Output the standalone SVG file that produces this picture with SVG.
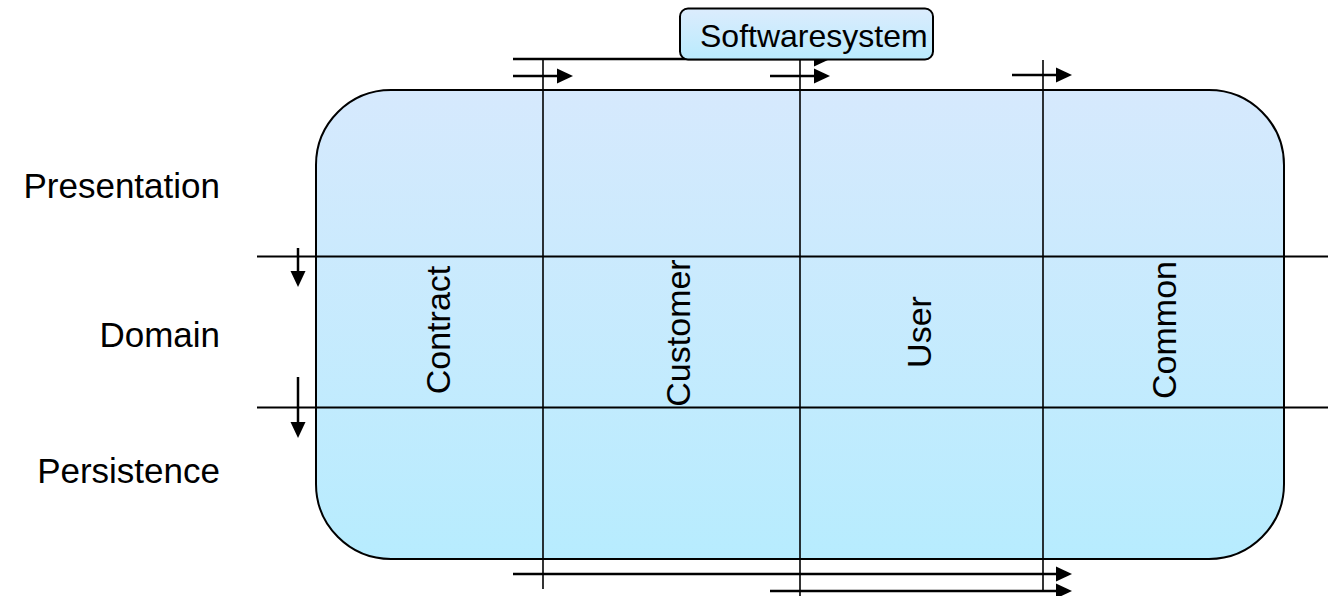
<svg xmlns="http://www.w3.org/2000/svg" width="1328" height="596" viewBox="0 0 1328 596">
  <style>
    .lbl { font-family: "Liberation Sans", Arial, sans-serif; font-size: 34px; fill: #000; }
    .row { font-size: 35px; }
    .title { font-size: 32px; }
    .grid { stroke: #000; stroke-width: 2; fill: none; }
    .col { stroke: #000; stroke-width: 1.6; fill: none; }
    .flow { stroke: #000; stroke-width: 2.5; fill: none; marker-end: url(#head); }
  </style>
  <defs>
    <linearGradient id="bodyFill" x1="0" y1="0" x2="0" y2="1">
      <stop offset="0" stop-color="#d6e9fd"/>
      <stop offset="1" stop-color="#b7ecfe"/>
    </linearGradient>
    <linearGradient id="boxFill" x1="0" y1="0" x2="0" y2="1">
      <stop offset="0" stop-color="#dcecfd"/>
      <stop offset="1" stop-color="#b9ebfd"/>
    </linearGradient>
    <marker id="head" viewBox="0 0 16 16" refX="8" refY="8" markerWidth="16" markerHeight="16" markerUnits="userSpaceOnUse" orient="auto">
      <path d="M0,0.5 L16,8 L0,15.5 z" fill="#000"/>
    </marker>
  </defs>

  <!-- system body -->
  <g id="system-body">
    <rect x="316" y="90" width="968" height="469" rx="75" ry="75" fill="url(#bodyFill)" stroke="#000" stroke-width="2"/>
  </g>

  <!-- layer and module separators, flows -->
  <g id="connectors">
    <line class="grid" x1="257" y1="256.5" x2="1328" y2="256.5"/>
    <line class="grid" x1="257" y1="407.5" x2="1328" y2="407.5"/>
    <line class="col" x1="543" y1="59" x2="543" y2="589"/>
    <line class="col" x1="800" y1="59" x2="800" y2="596"/>
    <line class="col" x1="1043" y1="60" x2="1043" y2="592"/>

    <line class="flow" x1="513" y1="59" x2="822" y2="59"/>
    <line class="flow" x1="513" y1="76" x2="565" y2="76"/>
    <line class="flow" x1="770" y1="76" x2="822" y2="76"/>
    <line class="flow" x1="1012" y1="75" x2="1064" y2="75"/>

    <line class="flow" x1="298" y1="248" x2="298" y2="279"/>
    <line class="flow" x1="298" y1="377" x2="298" y2="430"/>

    <line class="flow" x1="513" y1="574" x2="1064" y2="574"/>
    <line class="flow" x1="770" y1="591" x2="1064" y2="591"/>
  </g>

  <!-- layer labels -->
  <g id="layer-presentation"><text class="lbl row" x="220" y="198" text-anchor="end">Presentation</text></g>
  <g id="layer-domain"><text class="lbl row" x="220" y="347" text-anchor="end">Domain</text></g>
  <g id="layer-persistence"><text class="lbl row" x="220" y="483" text-anchor="end">Persistence</text></g>

  <!-- module labels -->
  <g id="module-contract"><text class="lbl" transform="translate(450,330) rotate(-90)" text-anchor="middle">Contract</text></g>
  <g id="module-customer"><text class="lbl" transform="translate(690,333) rotate(-90)" text-anchor="middle">Customer</text></g>
  <g id="module-user"><text class="lbl" transform="translate(931,332) rotate(-90)" text-anchor="middle">User</text></g>
  <g id="module-common"><text class="lbl" transform="translate(1176,330) rotate(-90)" text-anchor="middle">Common</text></g>

  <!-- system title -->
  <g id="softwaresystem">
    <rect x="680" y="8.5" width="253" height="51" rx="8" ry="8" fill="url(#boxFill)" stroke="#000" stroke-width="2"/>
    <text class="lbl title" x="700" y="47">Softwaresystem</text>
  </g>
</svg>
